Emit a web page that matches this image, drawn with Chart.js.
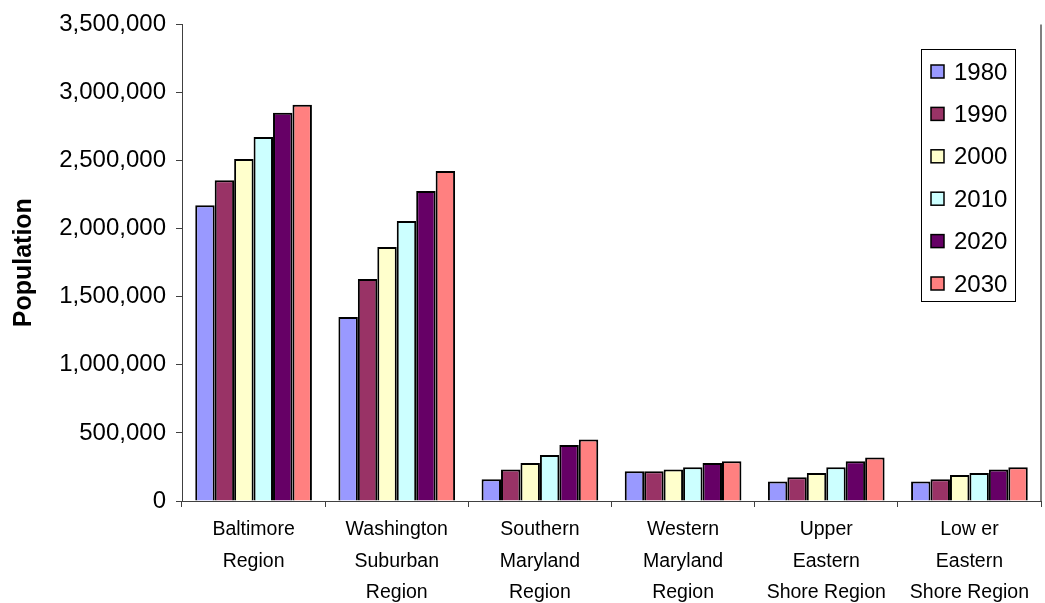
<!DOCTYPE html>
<html>
<head>
<meta charset="utf-8">
<title>Population by Region</title>
<script src="https://cdn.jsdelivr.net/npm/chart.js@4.4.1/dist/chart.umd.min.js"></script>
<style>
    html, body { margin: 0; padding: 0; background: #fff; }
    #wrap { width: 1045px; height: 603px; }
</style>
</head>
<body>
<div id="wrap"><canvas id="popChart" width="1045" height="603"></canvas></div>
<script>
// regions along the x axis (multi-line labels)
const regions = [
    ['Baltimore', 'Region'],
    ['Washington', 'Suburban', 'Region'],
    ['Southern', 'Maryland', 'Region'],
    ['Western', 'Maryland', 'Region'],
    ['Upper', 'Eastern', 'Shore Region'],
    ['Low er', 'Eastern', 'Shore Region']
];

const years = ['1980', '1990', '2000', '2010', '2020', '2030'];

// population per region, one array per year
const pop1980 = [2172000, 1352000, 159000, 218000, 144000, 144000];
const pop1990 = [2355000, 1630000, 232000, 218000, 174000, 159000];
const pop2000 = [2511000, 1866000, 279000, 232000, 205000, 191000];
const pop2010 = [2673000, 2056000, 338000, 247000, 247000, 205000];
const pop2020 = [2852000, 2277000, 411000, 279000, 291000, 232000];
const pop2030 = [2910000, 2423000, 452000, 291000, 320000, 247000];

// y axis range
const yMin = 0;
const yMax = 3500000;
const yStep = 500000;

const seriesData = [pop1980, pop1990, pop2000, pop2010, pop2020, pop2030];
const seriesColors = ['#9999FF', '#993366', '#FFFFCC', '#CCFFFF', '#660066', '#FF8080'];

const FONT = '"Liberation Sans", Arial, sans-serif';

// boxed legend drawn over the upper right of the plot
const boxLegend = {
    id: 'boxLegend',
    afterDraw(chart) {
        const ctx = chart.ctx;
        const left = 921, top = 49, right = 1015, bottom = 301;
        const rowGap = 42.4;
        const firstRow = 72;

        ctx.save();
        ctx.fillStyle = '#fff';
        ctx.fillRect(left, top, right - left, bottom - top);
        ctx.strokeStyle = '#000';
        ctx.lineWidth = 1;
        ctx.strokeRect(left + 0.5, top + 0.5, right - left, bottom - top);

        ctx.font = '24px ' + FONT;
        ctx.textBaseline = 'middle';
        ctx.textAlign = 'left';
        chart.data.datasets.forEach((ds, i) => {
            const y = firstRow + i * rowGap;
            ctx.fillStyle = ds.backgroundColor;
            ctx.fillRect(931, y - 7, 13, 13);
            ctx.lineWidth = 1.5;
            ctx.strokeStyle = '#000';
            ctx.strokeRect(931, y - 7, 13, 13);
            ctx.fillStyle = '#000';
            ctx.fillText(ds.label, 954, y + 1);
        });
        ctx.restore();
    }
};

// thin gray line closing the plot area on the right
const plotEdge = {
    id: 'plotEdge',
    afterDraw(chart) {
        const a = chart.chartArea;
        const ctx = chart.ctx;
        ctx.save();
        ctx.strokeStyle = '#808080';
        ctx.lineWidth = 2;
        ctx.beginPath();
        ctx.moveTo(a.right, a.top);
        ctx.lineTo(a.right, a.bottom);
        ctx.stroke();
        ctx.restore();
    }
};

document.addEventListener('DOMContentLoaded', () => {
    initPopChart();
});

function initPopChart() {
    const ctx = document.getElementById('popChart');

    const datasets = years.map((yr, i) => ({
        label: yr,
        data: seriesData[i],
        backgroundColor: seriesColors[i],
        borderColor: '#000',
        borderWidth: 2,
        barPercentage: 1,
        categoryPercentage: 0.815
    }));

    new Chart(ctx, {
        type: 'bar',
        data: { labels: regions, datasets: datasets },
        plugins: [plotEdge, boxLegend],
        options: {
            responsive: false,
            animation: false,
            devicePixelRatio: 1,
            layout: { padding: { left: 9, top: 24, right: 4, bottom: 0 } },
            plugins: {
                legend: { display: false },
                tooltip: { enabled: false }
            },
            scales: {
                x: {
                    offset: true,
                    grid: {
                        offset: true,
                        drawOnChartArea: false,
                        drawTicks: true,
                        tickLength: 6,
                        color: '#404040'
                    },
                    border: { display: true, color: '#404040', width: 1 },
                    ticks: {
                        color: '#000',
                        font: { family: FONT, size: 19.5, lineHeight: 1.62 },
                        padding: 7,
                        maxRotation: 0,
                        autoSkip: false
                    },
                    afterFit(scale) { scale.height = 603 - 501; }
                },
                y: {
                    min: yMin,
                    max: yMax,
                    grid: {
                        drawOnChartArea: false,
                        drawTicks: true,
                        tickLength: 6,
                        color: '#404040'
                    },
                    border: { display: true, color: '#404040', width: 1 },
                    ticks: {
                        stepSize: yStep,
                        color: '#000',
                        padding: 10,
                        font: { family: FONT, size: 24 },
                        callback: v => v.toLocaleString('en-US')
                    },
                    title: {
                        display: true,
                        text: 'Population',
                        color: '#000',
                        padding: 0,
                        font: { family: FONT, size: 25, weight: 'bold' }
                    },
                    afterFit(scale) { scale.width = 173; }
                }
            }
        }
    });
}
</script>
</body>
</html>
